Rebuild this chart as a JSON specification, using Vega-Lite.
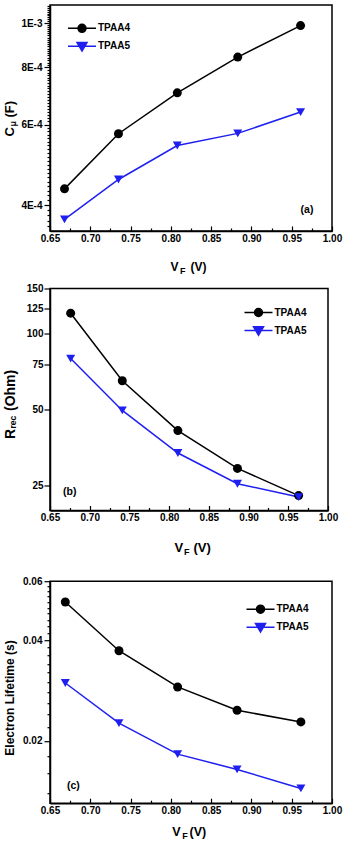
{
  "$schema": "https://vega.github.io/schema/vega-lite/v6.json",
  "padding": {"left": 2, "top": 0, "right": 0, "bottom": 0},
  "datasets": {
    "cap": [
      {"s": "TPAA4", "v": 0.668, "c": 0.000434},
      {"s": "TPAA4", "v": 0.735, "c": 0.000573},
      {"s": "TPAA4", "v": 0.808, "c": 0.000704},
      {"s": "TPAA4", "v": 0.883, "c": 0.000843},
      {"s": "TPAA4", "v": 0.961, "c": 0.000988},
      {"s": "TPAA5", "v": 0.668, "c": 0.000372},
      {"s": "TPAA5", "v": 0.735, "c": 0.000455},
      {"s": "TPAA5", "v": 0.808, "c": 0.00054},
      {"s": "TPAA5", "v": 0.883, "c": 0.000574},
      {"s": "TPAA5", "v": 0.961, "c": 0.000639}
    ],
    "rrec": [
      {"s": "TPAA4", "v": 0.676, "r": 119.9},
      {"s": "TPAA4", "v": 0.741, "r": 64.9},
      {"s": "TPAA4", "v": 0.811, "r": 41.3},
      {"s": "TPAA4", "v": 0.886, "r": 29.3},
      {"s": "TPAA4", "v": 0.963, "r": 22.9},
      {"s": "TPAA5", "v": 0.676, "r": 79.4},
      {"s": "TPAA5", "v": 0.741, "r": 49.6},
      {"s": "TPAA5", "v": 0.811, "r": 33.7},
      {"s": "TPAA5", "v": 0.886, "r": 25.5},
      {"s": "TPAA5", "v": 0.963, "r": 22.6}
    ],
    "tau": [
      {"s": "TPAA4", "v": 0.669, "t": 0.052},
      {"s": "TPAA4", "v": 0.7356, "t": 0.0372},
      {"s": "TPAA4", "v": 0.8084, "t": 0.029},
      {"s": "TPAA4", "v": 0.8822, "t": 0.0247},
      {"s": "TPAA4", "v": 0.9614, "t": 0.0228},
      {"s": "TPAA5", "v": 0.669, "t": 0.0298},
      {"s": "TPAA5", "v": 0.7356, "t": 0.0226},
      {"s": "TPAA5", "v": 0.8084, "t": 0.01827},
      {"s": "TPAA5", "v": 0.8822, "t": 0.01645},
      {"s": "TPAA5", "v": 0.9614, "t": 0.01443}
    ]
  },
  "columns": 1,
  "bounds": "flush",
  "spacing": 57.5,
  "concat": [
    {
      "width": 282,
      "height": 226,
      "data": {"name": "cap"},
      "layer": [
        {
          "mark": {"type": "line", "strokeWidth": 1.5},
          "encoding": {
            "x": {"field": "v", "type": "quantitative", "scale": {"domain": [0.65, 1.0], "nice": false, "zero": false},
              "axis": {"orient": "bottom", "values": [0.65,0.675,0.7,0.725,0.75,0.775,0.8,0.825,0.85,0.875,0.9,0.925,0.95,0.975,1.0],
                "labelExpr": "round(datum.value*1000) % 50 == 0 ? format(datum.value, '.2f') : ''",
                "tickSize": {"condition": {"test": "round(datum.value*1000) % 50 == 0", "value": -5}, "value": -3},
                "labelPadding": 7, "labelFlush": false, "labelOverlap": false,
                "title": "V", "titleFontSize": 12, "titleX": 120, "titleY": 39, "titleAlign": "left", "titleBaseline": "alphabetic"}},
            "y": {"field": "c", "type": "quantitative", "scale": {"type": "log", "domain": [0.000351, 0.001096], "nice": false},
              "axis": {"orient": "left", "values": [35e-5,36e-5,37e-5,38e-5,39e-5,40e-5,41e-5,42e-5,43e-5,44e-5,45e-5,46e-5,47e-5,48e-5,49e-5,50e-5,51e-5,52e-5,53e-5,54e-5,55e-5,56e-5,57e-5,58e-5,59e-5,60e-5,61e-5,62e-5,63e-5,64e-5,65e-5,66e-5,67e-5,68e-5,69e-5,70e-5,71e-5,72e-5,73e-5,74e-5,75e-5,76e-5,77e-5,78e-5,79e-5,80e-5,81e-5,82e-5,83e-5,84e-5,85e-5,86e-5,87e-5,88e-5,89e-5,90e-5,91e-5,92e-5,93e-5,94e-5,95e-5,96e-5,97e-5,98e-5,99e-5,100e-5,101e-5,102e-5,103e-5,104e-5,105e-5,106e-5,107e-5,108e-5,109e-5],
                "labelExpr": "round(datum.value*1e5) % 20 == 0 ? (round(datum.value*1e5) == 100 ? '1E-3' : round(datum.value*1e4) + 'E-4') : ''",
                "tickSize": {"condition": {"test": "round(datum.value*1e5) % 20 == 0", "value": 6}, "value": 3},
                "labelPadding": 2, "labelFlush": false, "labelOverlap": false,
                "title": "C", "titleFontSize": 13, "titleAngle": -90, "titleX": -37, "titleY": 131, "titleAlign": "left", "titleBaseline": "alphabetic"}},
            "color": {"field": "s", "type": "nominal", "scale": {"domain": ["TPAA4", "TPAA5"], "range": ["#000000", "#1f1ff0"]}, "legend": null}
          }
        },
        {
          "mark": {"type": "point", "filled": true, "opacity": 1, "size": 81},
          "encoding": {
            "x": {"field": "v", "type": "quantitative",
              "axis": {"orient": "bottom", "domain": false, "ticks": false, "labels": false, "title": "F", "titleFontSize": 9, "titleX": 129.5, "titleY": 42.5, "titleAlign": "left", "titleBaseline": "alphabetic"}},
            "y": {"field": "c", "type": "quantitative",
              "axis": {"orient": "left", "domain": false, "ticks": false, "labels": false, "title": "μ", "titleFontSize": 9, "titleAngle": -90, "titleX": -34.5, "titleY": 121, "titleAlign": "left", "titleBaseline": "alphabetic"}},
            "color": {"field": "s", "type": "nominal",
              "legend": {"orient": "none", "legendX": 26, "legendY": 17.3, "title": null, "symbolSize": 100, "labelOffset": 10, "rowPadding": 4, "padding": 0,
                "labelFontSize": 10, "labelFontWeight": "bold", "labelColor": "#000", "symbolStrokeWidth": 1.5,
                "encoding": {"symbols": {
                  "shape": {"condition": {"test": "datum.value === 'TPAA4'", "value": "M-2.8,0H2.8M0.8,0A0.8,0.8,0,1,1,-0.8,0A0.8,0.8,0,1,1,0.8,0Z"}, "value": "M-2.8,0H2.8M-1,-0.75L1,-0.75L0,0.95Z"},
                  "stroke": {"condition": {"test": "datum.value === 'TPAA4'", "value": "#000000"}, "value": "#1f1ff0"},
                  "fill": {"condition": {"test": "datum.value === 'TPAA4'", "value": "#000000"}, "value": "#1f1ff0"}
                }}}},
            "shape": {"field": "s", "type": "nominal", "scale": {"domain": ["TPAA4", "TPAA5"], "range": ["circle", "triangle-down"]}, "legend": null}
          }
        },
        {
          "data": {"values": [{"t": "(a)"}]},
          "mark": {"type": "text", "fontSize": 10.5, "fontWeight": "bold", "color": "#000", "align": "center", "baseline": "middle"},
          "encoding": {
            "x": {"datum": 0.969, "type": "quantitative",
              "axis": {"orient": "bottom", "domain": false, "ticks": false, "labels": false, "title": "(V)", "titleFontSize": 12, "titleX": 140, "titleY": 39, "titleAlign": "left", "titleBaseline": "alphabetic"}},
            "y": {"datum": 0.000391, "type": "quantitative",
              "axis": {"orient": "left", "domain": false, "ticks": false, "labels": false, "title": "(F)", "titleFontSize": 13, "titleAngle": -90, "titleX": -37, "titleY": 112, "titleAlign": "left", "titleBaseline": "alphabetic"}},
            "text": {"field": "t"}
          }
        }
      ],
      "resolve": {"axis": {"x": "independent", "y": "independent"}, "legend": {"color": "independent"}}
    },
    {
      "columns": 1,
      "bounds": "flush",
      "spacing": 70.7,
      "concat": [
        {
          "width": 278,
          "height": 222,
          "data": {"name": "rrec"},
          "layer": [
            {
              "mark": {"type": "line", "strokeWidth": 1.5},
              "encoding": {
                "x": {"field": "v", "type": "quantitative", "scale": {"domain": [0.65, 1.0], "nice": false, "zero": false},
                  "axis": {"orient": "bottom", "values": [0.65,0.675,0.7,0.725,0.75,0.775,0.8,0.825,0.85,0.875,0.9,0.925,0.95,0.975,1.0],
                    "labelExpr": "round(datum.value*1000) % 50 == 0 ? format(datum.value, '.2f') : ''",
                    "tickSize": {"condition": {"test": "round(datum.value*1000) % 50 == 0", "value": -5}, "value": -3},
                    "labelPadding": 7, "labelFlush": false, "labelOverlap": false,
                    "title": "V", "titleFontSize": 13, "titleX": 124, "titleY": 41, "titleAlign": "left", "titleBaseline": "alphabetic"}},
                "y": {"field": "r", "type": "quantitative", "scale": {"type": "log", "domain": [20, 150], "nice": false},
                  "axis": {"orient": "left", "values": [25, 50, 75, 100, 125, 150], "format": "d",
                    "tickSize": 6, "labelPadding": 1, "labelFlush": false, "labelOverlap": false,
                    "title": "R", "titleFontSize": 14, "titleAngle": -90, "titleX": -36, "titleY": 150, "titleAlign": "left", "titleBaseline": "alphabetic"}},
                "color": {"field": "s", "type": "nominal", "scale": {"domain": ["TPAA4", "TPAA5"], "range": ["#000000", "#1f1ff0"]}, "legend": null}
              }
            },
            {
              "mark": {"type": "point", "filled": true, "opacity": 1, "size": 81},
              "encoding": {
                "x": {"field": "v", "type": "quantitative",
                  "axis": {"orient": "bottom", "domain": false, "ticks": false, "labels": false, "title": "F", "titleFontSize": 9, "titleX": 133.5, "titleY": 44, "titleAlign": "left", "titleBaseline": "alphabetic"}},
                "y": {"field": "r", "type": "quantitative",
                  "axis": {"orient": "left", "domain": false, "ticks": false, "labels": false, "title": "rec", "titleFontSize": 8.5, "titleAngle": -90, "titleX": -34.5, "titleY": 139.5, "titleAlign": "left", "titleBaseline": "alphabetic"}},
                "color": {"field": "s", "type": "nominal",
                  "legend": {"orient": "none", "legendX": 202.5, "legendY": 18, "title": null, "symbolSize": 100, "labelOffset": 10, "rowPadding": 4, "padding": 0,
                    "labelFontSize": 10, "labelFontWeight": "bold", "labelColor": "#000", "symbolStrokeWidth": 1.5,
                    "encoding": {"symbols": {
                      "shape": {"condition": {"test": "datum.value === 'TPAA4'", "value": "M-2.8,0H2.8M0.8,0A0.8,0.8,0,1,1,-0.8,0A0.8,0.8,0,1,1,0.8,0Z"}, "value": "M-2.8,0H2.8M-1,-0.75L1,-0.75L0,0.95Z"},
                      "stroke": {"condition": {"test": "datum.value === 'TPAA4'", "value": "#000000"}, "value": "#1f1ff0"},
                      "fill": {"condition": {"test": "datum.value === 'TPAA4'", "value": "#000000"}, "value": "#1f1ff0"}
                    }}}},
                "shape": {"field": "s", "type": "nominal", "scale": {"domain": ["TPAA4", "TPAA5"], "range": ["circle", "triangle-down"]}, "legend": null}
              }
            },
            {
              "data": {"values": [{"t": "(b)"}]},
              "mark": {"type": "text", "fontSize": 10.5, "fontWeight": "bold", "color": "#000", "align": "center", "baseline": "middle"},
              "encoding": {
                "x": {"datum": 0.6748, "type": "quantitative",
                  "axis": {"orient": "bottom", "domain": false, "ticks": false, "labels": false, "title": "(V)", "titleFontSize": 13, "titleX": 143, "titleY": 41, "titleAlign": "left", "titleBaseline": "alphabetic"}},
                "y": {"datum": 23.7, "type": "quantitative",
                  "axis": {"orient": "left", "domain": false, "ticks": false, "labels": false, "title": "(Ohm)", "titleFontSize": 14, "titleAngle": -90, "titleX": -36, "titleY": 122, "titleAlign": "left", "titleBaseline": "alphabetic"}},
                "text": {"field": "t"}
              }
            }
          ],
          "resolve": {"axis": {"x": "independent", "y": "independent"}, "legend": {"color": "independent"}}
        },
        {
          "width": 282,
          "height": 222,
          "data": {"name": "tau"},
          "layer": [
            {
              "mark": {"type": "line", "strokeWidth": 1.5},
              "encoding": {
                "x": {"field": "v", "type": "quantitative", "scale": {"domain": [0.65, 1.0], "nice": false, "zero": false},
                  "axis": {"orient": "bottom", "values": [0.65,0.675,0.7,0.725,0.75,0.775,0.8,0.825,0.85,0.875,0.9,0.925,0.95,0.975,1.0],
                    "labelExpr": "round(datum.value*1000) % 50 == 0 ? format(datum.value, '.2f') : ''",
                    "tickSize": {"condition": {"test": "round(datum.value*1000) % 50 == 0", "value": -5}, "value": -3},
                    "labelPadding": 7, "labelFlush": false, "labelOverlap": false,
                    "title": "V", "titleFontSize": 12.5, "titleX": 121.7, "titleY": 32.5, "titleAlign": "left", "titleBaseline": "alphabetic"}},
                "y": {"field": "t", "type": "quantitative", "scale": {"type": "log", "domain": [0.01304, 0.06], "nice": false},
                  "axis": {"orient": "left", "values": [14e-3,16e-3,18e-3,20e-3,22e-3,24e-3,26e-3,28e-3,30e-3,32e-3,34e-3,36e-3,38e-3,40e-3,42e-3,44e-3,46e-3,48e-3,50e-3,52e-3,54e-3,56e-3,58e-3,60e-3],
                    "labelExpr": "round(datum.value*1000) % 20 == 0 ? format(datum.value, '.2f') : ''",
                    "tickSize": {"condition": {"test": "round(datum.value*1000) % 20 == 0", "value": 6}, "value": 3},
                    "labelPadding": 2, "labelFlush": false, "labelOverlap": false,
                    "title": "Electron Lifetime (s)", "titleFontSize": 12, "titleAngle": -90, "titleX": -36.7, "titleY": 174, "titleAlign": "left", "titleBaseline": "alphabetic"}},
                "color": {"field": "s", "type": "nominal", "scale": {"domain": ["TPAA4", "TPAA5"], "range": ["#000000", "#1f1ff0"]}, "legend": null}
              }
            },
            {
              "mark": {"type": "point", "filled": true, "opacity": 1, "size": 81},
              "encoding": {
                "x": {"field": "v", "type": "quantitative",
                  "axis": {"orient": "bottom", "domain": false, "ticks": false, "labels": false, "title": "F", "titleFontSize": 9, "titleX": 131.7, "titleY": 35, "titleAlign": "left", "titleBaseline": "alphabetic"}},
                "y": {"field": "t", "type": "quantitative", "axis": null},
                "color": {"field": "s", "type": "nominal",
                  "legend": {"orient": "none", "legendX": 204.5, "legendY": 22, "title": null, "symbolSize": 100, "labelOffset": 10, "rowPadding": 4, "padding": 0,
                    "labelFontSize": 10, "labelFontWeight": "bold", "labelColor": "#000", "symbolStrokeWidth": 1.5,
                    "encoding": {"symbols": {
                      "shape": {"condition": {"test": "datum.value === 'TPAA4'", "value": "M-2.8,0H2.8M0.8,0A0.8,0.8,0,1,1,-0.8,0A0.8,0.8,0,1,1,0.8,0Z"}, "value": "M-2.8,0H2.8M-1,-0.75L1,-0.75L0,0.95Z"},
                      "stroke": {"condition": {"test": "datum.value === 'TPAA4'", "value": "#000000"}, "value": "#1f1ff0"},
                      "fill": {"condition": {"test": "datum.value === 'TPAA4'", "value": "#000000"}, "value": "#1f1ff0"}
                    }}}},
                "shape": {"field": "s", "type": "nominal", "scale": {"domain": ["TPAA4", "TPAA5"], "range": ["circle", "triangle-down"]}, "legend": null}
              }
            },
            {
              "data": {"values": [{"t": "(c)"}]},
              "mark": {"type": "text", "fontSize": 10.5, "fontWeight": "bold", "color": "#000", "align": "center", "baseline": "middle"},
              "encoding": {
                "x": {"datum": 0.679, "type": "quantitative",
                  "axis": {"orient": "bottom", "domain": false, "ticks": false, "labels": false, "title": "(V)", "titleFontSize": 12.5, "titleX": 139, "titleY": 32.5, "titleAlign": "left", "titleBaseline": "alphabetic"}},
                "y": {"datum": 0.01472, "type": "quantitative", "axis": null},
                "text": {"field": "t"}
              }
            }
          ],
          "resolve": {"axis": {"x": "independent", "y": "independent"}, "legend": {"color": "independent"}}
        }
      ]
    }
  ],
  "config": {
    "font": "Liberation Sans",
    "view": {"stroke": "#000000", "strokeWidth": 1.5},
    "axis": {"domainColor": "#000000", "domainWidth": 1.5, "tickColor": "#000000", "tickWidth": 1.2,
      "labelFont": "Liberation Sans", "labelFontWeight": "bold", "labelFontSize": 10, "labelColor": "#000000",
      "titleFont": "Liberation Sans", "titleFontWeight": "bold", "titleColor": "#000000", "grid": false},
    "legend": {"labelFont": "Liberation Sans"},
    "text": {"font": "Liberation Sans"}
  }
}
